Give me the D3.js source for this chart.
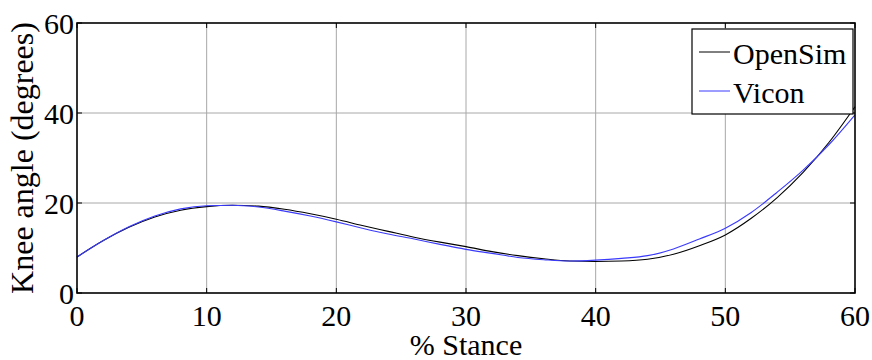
<html><head><meta charset="utf-8">
<script src="https://cdn.jsdelivr.net/npm/d3@7"></script>
</head><body style="margin:0">
<div id="area"></div>
<script>
// % stance samples (every 2%)
let stance = [0, 2, 4, 6, 8, 10, 12, 14, 16, 18, 20, 22, 24, 26, 28, 30,
              32, 34, 36, 38, 40, 42, 44, 46, 48, 50, 52, 54, 56, 58, 60];

let openSim = [8.0, 11.6, 14.6, 16.9, 18.4, 19.2, 19.5, 19.3, 18.6, 17.6, 16.4,
               15.0, 13.7, 12.4, 11.3, 10.3, 9.2, 8.3, 7.6, 7.1, 7.0,
               7.1, 7.5, 8.6, 10.5, 12.9, 16.6, 21.2, 26.8, 33.5, 41.4];

let vicon   = [8.0, 11.6, 14.7, 17.1, 18.7, 19.4, 19.5, 19.1, 18.2, 17.1, 15.8,
               14.4, 13.1, 12.0, 10.8, 9.7, 8.8, 7.9, 7.4, 7.1, 7.3,
               7.7, 8.3, 9.8, 12.0, 14.4, 17.9, 22.4, 27.3, 33.0, 39.6];

let xTicks = [0, 10, 20, 30, 40, 50, 60];
let yTicks = [0, 20, 40, 60];

let seriesNames  = ["OpenSim", "Vicon"];
let seriesColors = ["#000000", "#3a3aff"];

let margin = {
  top:    23,
  right:  17,
  bottom: 67,
  left:   77
};

let exteriorWidth  = 872,
    exteriorHeight = 360;

let interiorWidth  = exteriorWidth - margin.left - margin.right,
    interiorHeight = exteriorHeight - margin.top - margin.bottom;

let fontSize = 30;

let root =
  d3.select("#area")
    .append("svg")
      .attr("width", exteriorWidth)
      .attr("height", exteriorHeight);

let svg =
  root.append("g")
      .attr("transform", translate(margin.left, margin.top));

let x =
  d3.scaleLinear()
    .domain([0, 60])
    .range([0, interiorWidth]);

let y =
  d3.scaleLinear()
    .domain([0, 60])
    .range([interiorHeight, 0]);

function label(str, px, py, anchor, family, size) {
  return root.append("text")
    .attr("x", px)
    .attr("y", py)
    .attr("text-anchor", anchor)
    .attr("font-family", family)
    .attr("font-size", size || fontSize)
    .text(str);
}

// grid
svg.append("g")
  .selectAll("line")
  .data(xTicks.slice(1, -1))
  .join("line")
    .attr("x1", d => x(d)).attr("x2", d => x(d))
    .attr("y1", 0).attr("y2", interiorHeight)
    .attr("stroke", "#a8a8a8")
    .attr("stroke-width", 1);

svg.append("g")
  .selectAll("line")
  .data(yTicks.slice(1, -1))
  .join("line")
    .attr("x1", 0).attr("x2", interiorWidth)
    .attr("y1", d => y(d)).attr("y2", d => y(d))
    .attr("stroke", "#a8a8a8")
    .attr("stroke-width", 1);

// curves
let line =
  d3.line()
    .x((d, i) => x(stance[i]))
    .y(d => y(d))
    .curve(d3.curveMonotoneX);

[openSim, vicon].forEach(function(values, i) {
  svg.append("path")
     .datum(values)
       .attr("fill", "none")
       .attr("stroke", seriesColors[i])
       .attr("stroke-width", 1.1)
       .attr("d", line);
});

// inward ticks on all four sides
let tickLen = 5;
let ticks = svg.append("g").attr("stroke", "#000").attr("stroke-width", 1);
xTicks.forEach(function(t) {
  ticks.append("line").attr("x1", x(t)).attr("x2", x(t))
       .attr("y1", interiorHeight).attr("y2", interiorHeight - tickLen);
  ticks.append("line").attr("x1", x(t)).attr("x2", x(t))
       .attr("y1", 0).attr("y2", tickLen);
});
yTicks.forEach(function(t) {
  ticks.append("line").attr("x1", 0).attr("x2", tickLen)
       .attr("y1", y(t)).attr("y2", y(t));
  ticks.append("line").attr("x1", interiorWidth).attr("x2", interiorWidth - tickLen)
       .attr("y1", y(t)).attr("y2", y(t));
});

// box
svg.append("rect")
   .attr("width", interiorWidth)
   .attr("height", interiorHeight)
   .attr("fill", "none")
   .attr("stroke", "#000")
   .attr("stroke-width", 1.6);

// tick labels
xTicks.forEach(function(t) {
  label(String(t), margin.left + x(t), margin.top + interiorHeight + 33, "middle", "'Times New Roman'");
});
yTicks.forEach(function(t) {
  label(String(t), margin.left - 3, margin.top + y(t) + 11, "end", "Tinos");
});

// axis titles
label("% Stance", margin.left + interiorWidth / 2, margin.top + interiorHeight + 62, "middle", "'Nimbus Roman'");

label("Knee angle (degrees)", 0, 0, "middle", "'Liberation Serif'", 32)
  .attr("transform", translate(margin.left - 44, margin.top + interiorHeight / 2) + " rotate(-90)");

// legend
let legend =
  root.append("g")
    .attr("transform", translate(692, 29));

legend.append("rect")
  .attr("width", 161)
  .attr("height", 85)
  .attr("fill", "#fff")
  .attr("stroke", "#000")
  .attr("stroke-width", 1.2);

seriesNames.forEach(function(name, i) {
  let ly = 23 + i * 39;
  legend.append("line")
    .attr("x1", 7).attr("x2", 38)
    .attr("y1", ly).attr("y2", ly)
    .attr("stroke", seriesColors[i])
    .attr("stroke-width", 1);
  label(name, 692 + 41, 29 + ly + 12, "start", "Liberation Serif");
});

function translate(x, y=0) {
  return "translate({x}, {y})"
          .replace("{x}", x)
          .replace("{y}", y);
}
</script></body></html>
